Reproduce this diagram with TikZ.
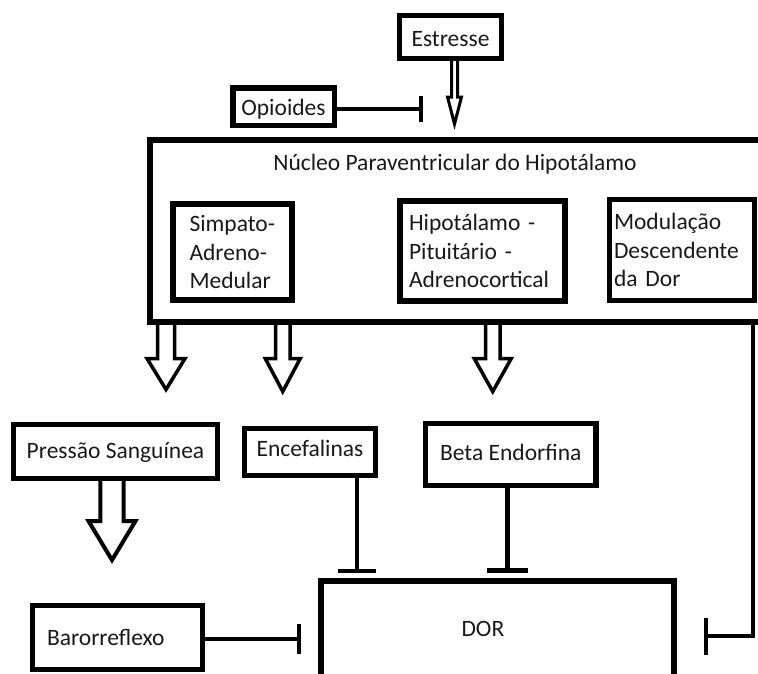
\documentclass[tikz,border=0pt]{standalone}
\usepackage{fontspec}
\setmainfont{Carlito}
\usetikzlibrary{arrows.meta,calc}
% hollow block arrow: #2 x centre, #3 y top, #4 y head top, #5 y tip, #6 shaft half width, #7 head half width
\newcommand\blockarrow[7][]{%
  \draw[hollow,#1] ({#2-#6},#3) -- ({#2-#6},#4) -- ({#2-#7},#4) -- (#2,#5) -- ({#2+#7},#4) -- ({#2+#6},#4) -- ({#2+#6},#3);}
\begin{document}
\begin{tikzpicture}[x=1pt,y=-1pt,
  every node/.style={font=\fontsize{23.5}{28.6}\selectfont, inner sep=0pt, text=black!90},
  box/.style={draw=black, line width=5.5pt, rectangle, align=center},
  hollow/.style={draw=black, line width=3.5pt, miter limit=10},
  inh/.style={draw=black, line width=4.5pt, -{Bar[width=#1]}},
]
\path[use as bounding box] (0,0) rectangle (758,673);
\clip (0,0) rectangle (758,673);

% top
\node[box, line width=5pt, minimum width=102pt, minimum height=43pt, text height=19.4pt, text depth=0pt] (estresse) at (450.5,37) {Estresse};
\node[box, line width=5.5pt, minimum width=101.5pt, minimum height=37.5pt, text height=17pt, text depth=0pt] (opi) at (283.5,106.5) {Opioides};

% paraventricular nucleus
\node[box, line width=6pt, minimum width=640pt, minimum height=182pt] (nph) at (470,231) {};
\node[text height=15pt, text depth=0pt] (title) at (455,163) {Núcleo Paraventricular do Hipotálamo};
\node[box, line width=6pt, minimum width=119pt, minimum height=96pt, text width=86pt, align=left] (sam) at (232.5,252) {Simpato-\\Adreno-\\Medular};
\node[box, line width=6pt, minimum width=165pt, minimum height=100pt, text width=147pt, align=left] (hpa) at (482.5,251) {Hipotálamo -\\Pituitário -\\Adrenocortical};
\node[box, line width=5pt, minimum width=145pt, minimum height=101pt, text width=136pt, align=left] (mod) at (682,250) {Modulação\\Descendente\\da Dor};

% lower boxes
\node[box, line width=5pt, minimum width=204pt, minimum height=54pt, text height=13.6pt, text depth=0pt] (ps) at (115.5,451.5) {Pressão Sanguínea};
\node[box, line width=5pt, minimum width=131pt, minimum height=47pt, text height=9.4pt, text depth=0pt] (enc) at (310,452) {Encefalinas};
\node[box, line width=5.5pt, minimum width=170.5pt, minimum height=62pt, text height=11pt, text depth=0pt] (beta) at (510.75,454.5) {Beta Endorfina};
\node[box, line width=5pt, minimum width=170pt, minimum height=64pt, text height=16.4pt, text depth=0pt, text width=141pt, align=left] (baro) at (117.5,637.5) {Barorreflexo};
\node[box, line width=6pt, minimum width=353pt, minimum height=99pt, text height=12.4pt, text depth=0pt, text width=72pt, align=left] (dor) at (497.5,630.5) {DOR};

% hollow block arrows
\blockarrow[line width=3pt]{454.5}{58.5}{97}{124}{3}{7}
\blockarrow{166}{322}{358.5}{389.5}{8.5}{19}
\blockarrow{282.75}{322}{358.5}{391.5}{7.25}{17.5}
\blockarrow{492.75}{322}{358.5}{391.5}{7.25}{18.5}
\blockarrow[line width=4pt]{112}{478.5}{521}{560}{11.7}{23.5}

% inhibitory connectors
\coordinate (opibar) at (423,109);
\draw[inh=26pt] (opibar -| opi.east) -- (opibar);
\coordinate (encbar) at (357,573);
\draw[inh=38pt] (encbar |- enc.south) -- (encbar);
\coordinate (betabar) at (507.5,572.5);
\draw[inh=41pt] (betabar |- beta.south) -- (betabar);
\coordinate (barobar) at (301,639);
\draw[inh=30pt] (barobar -| baro.east) -- (barobar);
\coordinate (nphr) at (753,0);
\coordinate (dorbar) at (704,636);
\draw[inh=37pt, line width=4pt] (nphr |- nph.south) |- (dorbar);
\end{tikzpicture}
\end{document}
